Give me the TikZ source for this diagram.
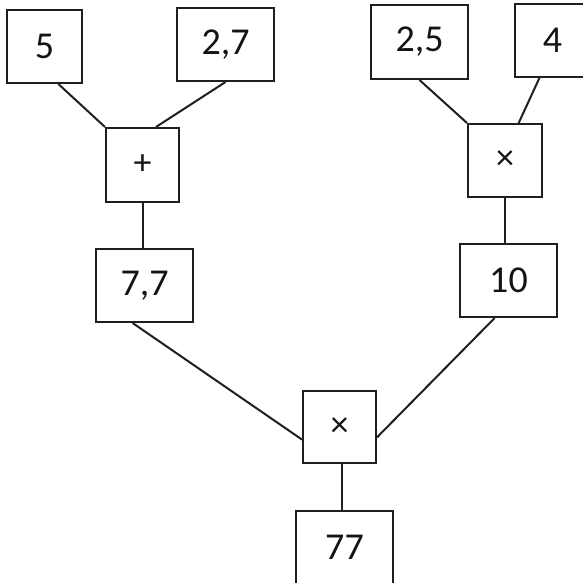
\documentclass[tikz,border=0pt]{standalone}
\usepackage{fontspec}
\setmainfont{Carlito}
\usetikzlibrary{calc}
\begin{document}
\begin{tikzpicture}[x=1pt,y=-1pt,
  numbox/.style={draw=black!88,line width=2pt,minimum height=73pt,inner sep=0pt,
    font=\fontsize{38}{38}\selectfont,text=black!92},
  wide/.style={numbox,minimum width=97pt},
  narrow/.style={numbox,minimum width=75pt},
  opbox/.style={numbox,minimum width=73pt,font=\fontsize{36}{36}\selectfont},
  link/.style={draw=black!88,line width=2pt}]
\useasboundingbox (0,0) rectangle (583,583);
\fill[white] (0,0) rectangle (583,583);
\node[narrow] (n5) at (44.5,46.5) {5};
\node[wide] (n27) at (225.5,44.5) {2,7};
\node[opbox,minimum height=74pt] (plus) at (142.5,165) {+};
\node[wide] (n77a) at (144.5,285.5) {7,7};
\node[wide,minimum height=74pt] (n25) at (419.5,42) {2,5};
\node[narrow] (n4) at (552.5,40.5) {4};
\node[opbox,minimum width=74pt] (multa) at (505,160.5) {×};
\node[wide] (n10) at (508.5,280.5) {10};
\node[opbox,minimum height=72pt] (multb) at (339.5,427) {×};
\node[wide] (res) at (344.5,547.5) {77};
\coordinate (mb) at ($(multb.south)+(2.5,0)$);
\draw[link] ($(n5.south west)!0.68!(n5.south east)$) -- (plus.north west);
\draw[link] ($(n27.south west)!0.5!(n27.south east)$) -- ($(plus.north west)!0.68!(plus.north east)$);
\draw[link] (plus.south) -- (plus.south |- n77a.north);
\draw[link] ($(n25.south west)!0.5!(n25.south east)$) -- (multa.north west);
\draw[link] ($(n4.south west)!0.33!(n4.south east)$) -- ($(multa.north west)!0.68!(multa.north east)$);
\draw[link] (multa.south) -- (multa.south |- n10.north);
\draw[link] ($(n77a.south west)!0.38!(n77a.south east)$) -- ($(multb.north west)!0.67!(multb.south west)$);
\draw[link] ($(n10.south west)!0.36!(n10.south east)$) -- ($(multb.north east)!0.64!(multb.south east)$);
\draw[link] (mb) -- (mb |- res.north);
\end{tikzpicture}
\end{document}
